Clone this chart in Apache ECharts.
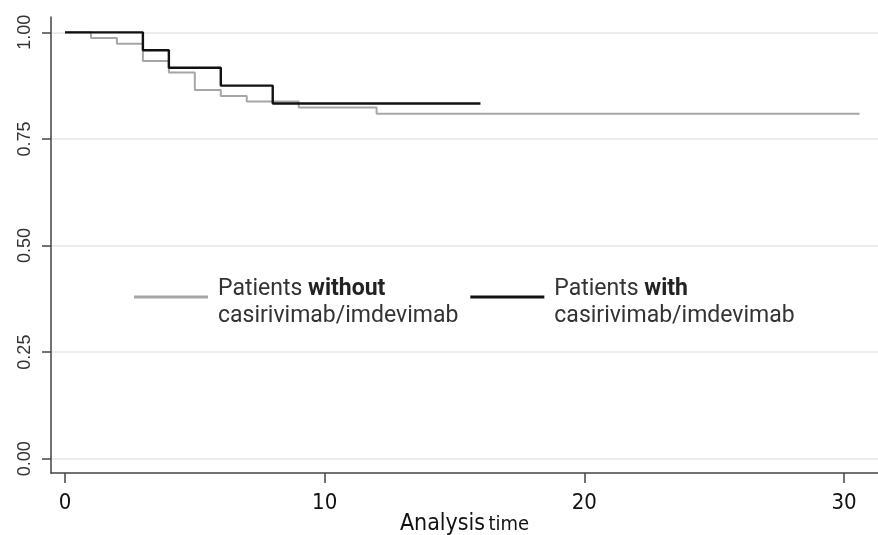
<!DOCTYPE html>
<html>
<head>
<meta charset="utf-8">
<script src="https://cdn.jsdelivr.net/npm/echarts@6/dist/echarts.min.js"></script>
<style>
  html, body { margin: 0; padding: 0; background: #fff; }
  #chart { width: 878px; height: 535px; }
</style>
</head>
<body>
<div id="chart"></div>
<script>
// Kaplan-Meier step data
const withoutTimes = [0, 1, 2, 3, 4, 5, 6, 7, 9, 12, 30.6];
const withoutSurv  = [1, 0.987, 0.973, 0.933, 0.906, 0.865, 0.851, 0.838, 0.824, 0.809, 0.809];
const withTimes    = [0, 3, 4, 6, 8, 16];
const withSurv     = [1, 0.958, 0.917, 0.875, 0.833, 0.833];
const xTicks = [0, 10, 20, 30];
const yTicks = [0, 0.25, 0.5, 0.75, 1];
const seriesNames = ['without', 'with'];

const pair = (ts, vs) => ts.map((t, i) => [t, vs[i]]);
const narrow = 'Liberation Sans Narrow, DejaVu Sans Condensed, sans-serif';

const chart = echarts.init(document.getElementById('chart'), null, { renderer: 'canvas' });
chart.setOption({
  animation: false,
  backgroundColor: '#fff',
  grid: { left: 51, right: 0, top: 17, bottom: 62, containLabel: false, outerBoundsMode: 'none' },
  xAxis: {
    type: 'value',
    min: -0.539, max: 31.31,
    name: '{a|Analysis} {b|time}',
    nameLocation: 'middle',
    nameGap: 40,
    nameMoveOverlap: false,
    nameTextStyle: {
      rich: {
        a: { fontSize: 23, color: '#111', fontFamily: narrow },
        b: { fontSize: 20, color: '#111', fontFamily: narrow }
      }
    },
    axisLine: { show: true, onZero: false, lineStyle: { color: '#444', width: 1.5 } },
    axisTick: { show: true, length: 10, lineStyle: { color: '#444', width: 1.5 }, customValues: xTicks },
    axisLabel: {
      customValues: xTicks, margin: 19, fontSize: 22, color: '#111', fontFamily: narrow
    },
    splitLine: { show: false }
  },
  yAxis: {
    type: 'value',
    min: -0.0335, max: 1.036,
    axisLine: { show: true, onZero: false, lineStyle: { color: '#444', width: 1.5 } },
    axisTick: { show: true, length: 9, lineStyle: { color: '#444', width: 1.5 }, customValues: yTicks },
    axisLabel: {
      customValues: yTicks, rotate: 90, margin: 17, fontSize: 18, color: '#333',
      fontFamily: 'Liberation Sans, Arial, sans-serif',
      formatter: v => v.toFixed(2)
    },
    splitLine: { show: true, lineStyle: { color: '#e6e6e6', width: 1.5 } }
  },
  legend: {
    left: 134, top: 278,
    padding: 0,
    orient: 'horizontal',
    itemWidth: 74, itemHeight: 3,
    itemGap: 12,
    icon: 'rect',
    data: [
      { name: seriesNames[0], itemStyle: { color: '#a6a6a6' } },
      { name: seriesNames[1], itemStyle: { color: '#111' } }
    ],
    formatter: n => '{n|Patients }{b|' + n + '}\n{n|casirivimab/imdevimab}',
    textStyle: {
      padding: [12, 0, 0, 5],
      rich: {
        n: { fontSize: 23, lineHeight: 27, color: '#333', fontFamily: 'Roboto, sans-serif' },
        b: { fontSize: 23, lineHeight: 27, color: '#222', fontWeight: 'bold', fontFamily: 'Roboto, sans-serif' }
      }
    }
  },
  series: [
    {
      name: seriesNames[0], type: 'line', step: 'end', showSymbol: false, symbol: 'none',
      data: pair(withoutTimes, withoutSurv),
      lineStyle: { color: '#a6a6a6', width: 2 }, itemStyle: { color: '#a6a6a6' }, z: 2
    },
    {
      name: seriesNames[1], type: 'line', step: 'end', showSymbol: false, symbol: 'none',
      data: pair(withTimes, withSurv),
      lineStyle: { color: '#111', width: 2.4 }, itemStyle: { color: '#111' }, z: 3
    }
  ]
});
</script>
</body>
</html>
